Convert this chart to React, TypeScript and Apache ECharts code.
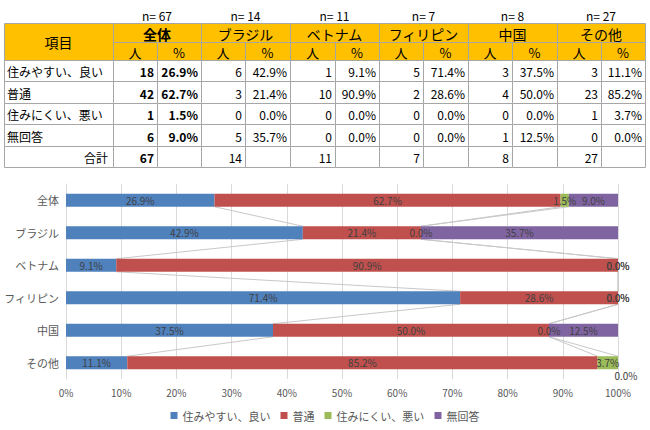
import React, { useEffect, useRef } from "react";
import * as echarts from "echarts";

const groups = ["全体", "ブラジル", "ベトナム", "フィリピン", "中国", "その他"];
const groupN = [67, 14, 11, 7, 8, 27];
const items = ["住みやすい、良い", "普通", "住みにくい、悪い", "無回答"];
const countGood = [18, 6, 1, 5, 3, 3];
const countNormal = [42, 3, 10, 2, 4, 23];
const countBad = [1, 0, 0, 0, 0, 1];
const countNoAnswer = [6, 5, 0, 0, 1, 0];
const pctGood = [26.9, 42.9, 9.1, 71.4, 37.5, 11.1];
const pctNormal = [62.7, 21.4, 90.9, 28.6, 50.0, 85.2];
const pctBad = [1.5, 0.0, 0.0, 0.0, 0.0, 3.7];
const pctNoAnswer = [9.0, 35.7, 0.0, 0.0, 12.5, 0.0];
const xTicks = [0, 10, 20, 30, 40, 50, 60, 70, 80, 90, 100];

const counts = [countGood, countNormal, countBad, countNoAnswer];
const pcts = [pctGood, pctNormal, pctBad, pctNoAnswer];
const colors = ["#4F81BD", "#C0504D", "#9BBB59", "#8064A2"];
const FONT = "'Noto Sans CJK JP', 'Noto Sans', sans-serif";

const colX = [4, 113, 157, 201, 245, 290, 335, 379, 423, 468, 512, 557, 601, 645];
const rowY = [23, 42, 60, 81, 103, 124, 146, 167];
const BORDER = "#a6a6a6";
const HEAD = "#FFC000";

function buildTable(): any[] {
  const els: any[] = [];
  const cell = (x1: number, y1: number, x2: number, y2: number, fill: string) =>
    els.push({
      type: "rect",
      shape: { x: x1 + 0.5, y: y1 + 0.5, width: x2 - x1, height: y2 - y1 },
      style: { fill, stroke: BORDER, lineWidth: 1 },
      z: 1,
    });
  const txt = (
    text: string,
    x: number,
    y: number,
    align: string,
    size: number,
    bold = false
  ) =>
    els.push({
      type: "text",
      x,
      y,
      z: 2,
      style: {
        text,
        fill: "#000",
        font: `${bold ? "bold " : ""}${size}px ${FONT}`,
        align,
        verticalAlign: "middle",
      },
    });
  // header
  cell(colX[0], rowY[0], colX[1], rowY[2], HEAD);
  txt("項目", (colX[0] + colX[1]) / 2, (rowY[0] + rowY[2]) / 2, "center", 14);
  groups.forEach((g, gi) => {
    const a = colX[1 + gi * 2];
    const b = colX[2 + gi * 2];
    const c = colX[3 + gi * 2];
    txt(`n= ${groupN[gi]}`, (a + c) / 2, 15, "center", 12);
    cell(a, rowY[0], c, rowY[1], HEAD);
    txt(g, (a + c) / 2, (rowY[0] + rowY[1]) / 2 + 1, "center", 14, gi === 0);
    cell(a, rowY[1], b, rowY[2], HEAD);
    cell(b, rowY[1], c, rowY[2], HEAD);
    txt("人", (a + b) / 2, (rowY[1] + rowY[2]) / 2 + 1, "center", 13);
    txt("%", (b + c) / 2, (rowY[1] + rowY[2]) / 2 + 1, "center", 13);
  });
  // data rows
  items.forEach((it, r) => {
    const y1 = rowY[2 + r];
    const y2 = rowY[3 + r];
    const cy = (y1 + y2) / 2 + 1;
    cell(colX[0], y1, colX[1], y2, "#fff");
    txt(it, colX[0] + 3, cy, "left", 12);
    groups.forEach((g, gi) => {
      const a = colX[1 + gi * 2];
      const b = colX[2 + gi * 2];
      const c = colX[3 + gi * 2];
      cell(a, y1, b, y2, "#fff");
      cell(b, y1, c, y2, "#fff");
      txt(String(counts[r][gi]), b - 3, cy, "right", 12, gi === 0);
      txt(pcts[r][gi].toFixed(1) + "%", c - 3, cy, "right", 12, gi === 0);
    });
  });
  // total row
  const y1 = rowY[6];
  const y2 = rowY[7];
  const cy = (y1 + y2) / 2 + 1;
  cell(colX[0], y1, colX[1], y2, "#fff");
  txt("合計", colX[1] - 5, cy, "right", 12);
  groups.forEach((g, gi) => {
    const a = colX[1 + gi * 2];
    const b = colX[2 + gi * 2];
    const c = colX[3 + gi * 2];
    cell(a, y1, b, y2, "#fff");
    cell(b, y1, c, y2, "#fff");
    txt(String(groupN[gi]), b - 3, cy, "right", 12, gi === 0);
  });
  return els;
}

export default function App() {
  const ref = useRef<HTMLDivElement>(null);
  useEffect(() => {
    document.body.style.margin = "0";
    const chart = echarts.init(ref.current!, null, { renderer: "svg" });
    const barSeries = items.map((name, k) => ({
      name,
      type: "bar",
      stack: "total",
      barWidth: "40%",
      itemStyle: { color: colors[k] },
      label: {
        show: true,
        position: "inside",
        color: "#404040",
        fontSize: 10,
        fontFamily: FONT,
        formatter: (p: any) => Number(p.value).toFixed(1) + "%",
      },
      z: 3,
      data: pcts[k].map((v, i) =>
        k === 3 && i === 5
          ? { value: v, label: { offset: [8, 13] } }
          : v
      ),
    }));
    const lineData: number[][] = [];
    for (let i = 0; i < groups.length - 1; i++) {
      for (let k = 0; k < 3; k++) lineData.push([i, k]);
    }
    const option: any = {
      animation: false,
      textStyle: { fontFamily: FONT },
      grid: { left: 66, right: 32, top: 184, bottom: 51, containLabel: false },
      xAxis: {
        type: "value",
        min: 0,
        max: 100,
        interval: 10,
        axisLabel: {
          formatter: (v: number) => (xTicks.includes(v) ? v + "%" : ""),
          color: "#595959",
          fontSize: 10,
          margin: 8,
        },
        axisLine: { show: false },
        axisTick: { show: false },
        splitLine: { lineStyle: { color: "#d9d9d9" } },
      },
      yAxis: {
        type: "category",
        data: groups,
        inverse: true,
        axisLabel: { color: "#595959", fontSize: 11, margin: 7 },
        axisLine: { show: true, lineStyle: { color: "#d9d9d9" } },
        axisTick: { show: false },
      },
      legend: {
        data: items,
        top: 405,
        left: "center",
        icon: "rect",
        itemWidth: 7,
        itemHeight: 7,
        itemGap: 10,
        textStyle: { color: "#595959", fontSize: 11, fontFamily: FONT },
      },
      graphic: buildTable(),
      series: [
        ...barSeries,
        {
          type: "custom",
          name: "seriesLines",
          z: 2,
          silent: true,
          data: lineData,
          encode: { x: 0, y: 1 },
          renderItem: (params: any, api: any) => {
            const i = api.value(0);
            const k = api.value(1);
            let c1 = 0;
            let c2 = 0;
            for (let j = 0; j <= k; j++) {
              c1 += pcts[j][i];
              c2 += pcts[j][i + 1];
            }
            const p1 = api.coord([c1, groups[i]]);
            const p2 = api.coord([c2, groups[i + 1]]);
            const half = api.size([0, 1])[1] * 0.2;
            return {
              type: "line",
              shape: { x1: p1[0], y1: p1[1] + half, x2: p2[0], y2: p2[1] - half },
              style: { stroke: "#c8c8c8", lineWidth: 1 },
            };
          },
        },
      ],
    };
    chart.setOption(option);
    return () => chart.dispose();
  }, []);
  return <div ref={ref} style={{ width: 650, height: 430 }} />;
}
